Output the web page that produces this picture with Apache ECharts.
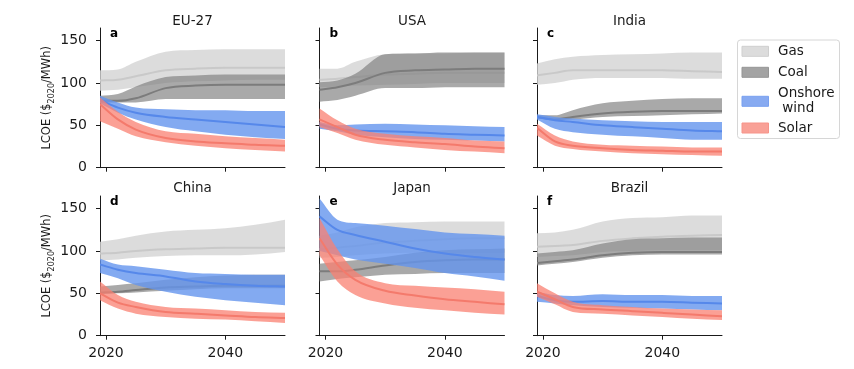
<!DOCTYPE html>
<html>
<head>
<meta charset="utf-8">
<script src="https://cdn.jsdelivr.net/npm/echarts@6/dist/echarts.min.js"></script>
<style>
  html, body { margin: 0; padding: 0; background: #fff; }
  #chart { width: 854px; height: 369px; }
</style>
</head>
<body>
<div id="chart"></div>
<script>
// ---------------- DATA ----------------
const YEARS = [2019, 2022, 2025, 2030, 2035, 2040, 2045, 2050];
const COUNTRIES = ['EU-27', 'USA', 'India', 'China', 'Japan', 'Brazil'];
const LETTERS = ['a', 'b', 'c', 'd', 'e', 'f'];
const TECHS = ['Gas', 'Coal', 'Onshore wind', 'Solar'];
const Y_TICKS = [0, 50, 100, 150];
const X_TICKS = [2020, 2040];

// EU-27
const EU_gas_hi   = [115, 116, 125, 137, 139, 140, 140, 140];
const EU_gas_md   = [103, 104, 108, 115, 117, 118, 118, 118];
const EU_gas_lo   = [91, 92, 95, 100, 102, 103, 104, 104];
const EU_coal_hi  = [85, 87, 96, 107, 109, 110, 110, 110];
const EU_coal_md  = [79, 79, 82, 94, 97, 98, 98, 98];
const EU_coal_lo  = [76, 77, 77, 81, 81, 81, 81, 81];
const EU_wind_hi  = [85, 77, 71, 69, 68, 68, 67, 67];
const EU_wind_md  = [80, 71, 65, 60, 57, 54, 51, 48];
const EU_wind_lo  = [76, 65, 57, 48, 43, 39, 36, 34];
const EU_solar_hi = [83, 66, 54, 43, 40, 37, 35, 33];
const EU_solar_md = [75, 57, 45, 35, 31, 29, 27, 26];
const EU_solar_lo = [55, 46, 37, 30, 26, 23, 21, 19];

// USA
const US_gas_hi   = [117, 117, 125, 134, 135, 135, 136, 136];
const US_gas_md   = [104, 105, 107, 110, 111, 112, 112, 112];
const US_gas_lo   = [95, 96, 97, 98, 99, 100, 100, 100];
const US_coal_hi  = [101, 103, 111, 134, 135, 136, 136, 136];
const US_coal_md  = [92, 95, 100, 112, 115, 116, 117, 117];
const US_coal_lo  = [78, 80, 85, 94, 94, 95, 95, 95];
const US_wind_hi  = [54, 50, 51, 52, 51, 50, 49, 48];
const US_wind_md  = [51, 46, 44, 43, 42, 40, 39, 38];
const US_wind_lo  = [46, 43, 39, 36, 34, 33, 32, 31];
const US_solar_hi = [70, 56, 46, 40, 37, 35, 32, 31];
const US_solar_md = [57, 48, 39, 33, 30, 28, 25, 23];
const US_solar_lo = [48, 41, 33, 27, 24, 21, 19, 17];

// India
const IN_gas_hi   = [123, 128, 131, 133, 134, 135, 136, 136];
const IN_gas_md   = [109, 112, 115, 115, 115, 115, 114, 113];
const IN_gas_lo   = [98, 100, 104, 106, 106, 106, 105, 105];
const IN_coal_hi  = [62, 62, 68, 76, 79, 81, 82, 82];
const IN_coal_md  = [60, 57, 60, 64, 66, 67, 67, 67];
const IN_coal_lo  = [58, 56, 57, 60, 61, 62, 63, 64];
const IN_wind_hi  = [63, 60, 58, 56, 55, 54, 54, 54];
const IN_wind_md  = [60, 56, 54, 50, 48, 46, 44, 43];
const IN_wind_lo  = [57, 46, 42, 39, 37, 35, 33, 33];
const IN_solar_hi = [52, 38, 31, 27, 26, 25, 24, 24];
const IN_solar_md = [47, 31, 26, 23, 21, 20, 19, 19];
const IN_solar_lo = [38, 26, 22, 19, 17, 16, 15, 14];

// China
const CN_gas_hi   = [111, 114, 118, 123, 125, 127, 131, 137];
const CN_gas_md   = [97, 98, 100, 102, 103, 104, 104, 104];
const CN_gas_lo   = [89, 90, 92, 94, 95, 95, 96, 99];
const CN_coal_hi  = [58, 60, 62, 66, 69, 71, 72, 72];
const CN_coal_md  = [51, 52, 54, 57, 58, 59, 59, 59];
const CN_coal_lo  = [49, 50, 51, 53, 55, 56, 56, 56];
const CN_wind_hi  = [91, 84, 82, 78, 74, 73, 72, 72];
const CN_wind_md  = [84, 78, 74, 70, 64, 61, 59, 58];
const CN_wind_lo  = [74, 68, 60, 52, 46, 42, 39, 36];
const CN_solar_hi = [64, 48, 40, 34, 32, 30, 28, 27];
const CN_solar_md = [50, 39, 34, 28, 26, 24, 22, 21];
const CN_solar_lo = [42, 32, 26, 22, 20, 19, 17, 15];

// Japan
const JP_gas_hi   = [118, 122, 128, 133, 134, 135, 135, 135];
const JP_gas_md   = [102, 104, 106, 110, 112, 114, 115, 115];
const JP_gas_lo   = [92, 93, 95, 97, 98, 98, 98, 98];
const JP_coal_hi  = [85, 87, 89, 93, 98, 101, 102, 103];
const JP_coal_md  = [76, 76, 78, 83, 87, 89, 90, 90];
const JP_coal_lo  = [64, 67, 69, 72, 73, 74, 74, 74];
const JP_wind_hi  = [162, 137, 133, 130, 126, 122, 120, 118];
const JP_wind_md  = [141, 125, 119, 111, 103, 97, 93, 90];
const JP_wind_lo  = [100, 95, 90, 85, 80, 74, 70, 65];
const JP_solar_hi = [139, 102, 76, 62, 59, 57, 55, 52];
const JP_solar_md = [115, 84, 66, 53, 47.5, 43, 40, 37];
const JP_solar_lo = [95, 64, 48, 38, 33, 30, 27, 25];

// Brazil
const BR_gas_hi   = [121, 122, 125, 135, 139, 140, 142, 142];
const BR_gas_md   = [105, 106, 107, 112, 115, 117, 118, 119];
const BR_gas_lo   = [93, 94, 95, 99, 100, 101, 101, 101];
const BR_coal_hi  = [97, 99, 101, 109, 114, 115, 116, 116];
const BR_coal_md  = [86, 88, 90, 95, 98, 99, 99, 99];
const BR_coal_lo  = [83, 85, 87, 92, 95, 96, 96, 96];
const BR_wind_hi  = [52, 48, 47, 49, 48, 48, 47, 47];
const BR_wind_md  = [47, 42, 40, 41, 40, 40, 39, 38];
const BR_wind_lo  = [40, 38, 36, 34, 33, 32, 31, 30];
const BR_solar_hi = [62, 50, 40, 36, 34, 32, 31, 30];
const BR_solar_md = [52, 43, 34, 31, 29, 27, 25, 23];
const BR_solar_lo = [46, 37, 28, 26, 24, 22, 20, 18.5];

const PANELS = [
  [[EU_gas_lo, EU_gas_md, EU_gas_hi], [EU_coal_lo, EU_coal_md, EU_coal_hi], [EU_wind_lo, EU_wind_md, EU_wind_hi], [EU_solar_lo, EU_solar_md, EU_solar_hi]],
  [[US_gas_lo, US_gas_md, US_gas_hi], [US_coal_lo, US_coal_md, US_coal_hi], [US_wind_lo, US_wind_md, US_wind_hi], [US_solar_lo, US_solar_md, US_solar_hi]],
  [[IN_gas_lo, IN_gas_md, IN_gas_hi], [IN_coal_lo, IN_coal_md, IN_coal_hi], [IN_wind_lo, IN_wind_md, IN_wind_hi], [IN_solar_lo, IN_solar_md, IN_solar_hi]],
  [[CN_gas_lo, CN_gas_md, CN_gas_hi], [CN_coal_lo, CN_coal_md, CN_coal_hi], [CN_wind_lo, CN_wind_md, CN_wind_hi], [CN_solar_lo, CN_solar_md, CN_solar_hi]],
  [[JP_gas_lo, JP_gas_md, JP_gas_hi], [JP_coal_lo, JP_coal_md, JP_coal_hi], [JP_wind_lo, JP_wind_md, JP_wind_hi], [JP_solar_lo, JP_solar_md, JP_solar_hi]],
  [[BR_gas_lo, BR_gas_md, BR_gas_hi], [BR_coal_lo, BR_coal_md, BR_coal_hi], [BR_wind_lo, BR_wind_md, BR_wind_hi], [BR_solar_lo, BR_solar_md, BR_solar_hi]]
];

// ---------------- STYLE ----------------
const FONT = 'DejaVu Sans';
const BAND = ['rgba(211,211,211,0.8)', 'rgba(128,128,128,0.68)', 'rgba(100,149,237,0.8)', 'rgba(250,128,114,0.75)'];
const LINE = ['#c9c9c9', '#7c7c7c', '#5688ea', '#f47a6c'];
const LEG_FILL = ['#dcdcdc', '#a3a3a3', '#87aaf1', '#f9a197'];
const LEG_EDGE = ['#cfcfcf', '#959595', '#78a0f0', '#f7948a'];
const LEFTS = [100, 319.5, 537];
const TOPS = [28, 196];
const GW = 185, GH = 139.7;

// monotone cubic (Fritsch-Carlson) segments in pixel space
function monoSegments(p) {
  const n = p.length, d = [], m = [];
  for (let k = 0; k < n - 1; k++) d.push((p[k + 1][1] - p[k][1]) / (p[k + 1][0] - p[k][0]));
  m[0] = d[0]; m[n - 1] = d[n - 2];
  for (let k = 1; k < n - 1; k++) m[k] = (d[k - 1] * d[k] <= 0) ? 0 : (d[k - 1] + d[k]) / 2;
  for (let k = 0; k < n - 1; k++) {
    if (d[k] === 0) { m[k] = 0; m[k + 1] = 0; continue; }
    const a = m[k] / d[k], b = m[k + 1] / d[k], s = a * a + b * b;
    if (s > 9) { const t = 3 / Math.sqrt(s); m[k] = t * a * d[k]; m[k + 1] = t * b * d[k]; }
  }
  const segs = [];
  for (let k = 0; k < n - 1; k++) {
    const h = p[k + 1][0] - p[k][0];
    segs.push([p[k], [p[k][0] + h / 3, p[k][1] + m[k] * h / 3], [p[k + 1][0] - h / 3, p[k + 1][1] - m[k + 1] * h / 3], p[k + 1]]);
  }
  return segs;
}
const f = v => v.toFixed(2);
function curvePath(pts, start) {
  const segs = monoSegments(pts);
  let s = start ? 'M' + f(pts[0][0]) + ' ' + f(pts[0][1]) : '';
  segs.forEach(g => { s += 'C' + f(g[1][0]) + ' ' + f(g[1][1]) + ' ' + f(g[2][0]) + ' ' + f(g[2][1]) + ' ' + f(g[3][0]) + ' ' + f(g[3][1]); });
  return s;
}
function reversePath(pts) {
  const segs = monoSegments(pts).reverse();
  let s = 'L' + f(pts[pts.length - 1][0]) + ' ' + f(pts[pts.length - 1][1]);
  segs.forEach(g => { s += 'C' + f(g[2][0]) + ' ' + f(g[2][1]) + ' ' + f(g[1][0]) + ' ' + f(g[1][1]) + ' ' + f(g[0][0]) + ' ' + f(g[0][1]); });
  return s + 'Z';
}

const grids = [], xAxes = [], yAxes = [], series = [], graphics = [];

PANELS.forEach((panel, gi) => {
  const col = gi % 3, row = Math.floor(gi / 3);
  grids.push({ left: LEFTS[col], top: TOPS[row], width: GW, height: GH, containLabel: false });
  xAxes.push({
    type: 'value', gridIndex: gi, min: 2019, max: 2050,
    axisLine: { show: true, onZero: false, lineStyle: { color: '#1a1a1a', width: 1 } },
    axisTick: { show: true, length: 4, customValues: X_TICKS, lineStyle: { color: '#1a1a1a' } },
    axisLabel: { show: row === 1, customValues: X_TICKS, margin: 11, fontSize: 14, color: '#1a1a1a', fontFamily: FONT, formatter: v => String(v) },
    splitLine: { show: false }
  });
  yAxes.push({
    type: 'value', gridIndex: gi, min: 0, max: 165,
    axisLine: { show: true, lineStyle: { color: '#1a1a1a', width: 1 } },
    axisTick: { show: true, length: 4, customValues: Y_TICKS, lineStyle: { color: '#1a1a1a' } },
    axisLabel: { show: col === 0, customValues: Y_TICKS, margin: 13, fontSize: 14, color: '#1a1a1a', fontFamily: FONT, formatter: v => String(v) },
    splitLine: { show: false },
    name: col === 0 ? '{a|LCOE ($}{s|2020}{a|/MWh)}' : '',
    nameLocation: 'middle', nameGap: 47,
    nameTextStyle: {
      color: '#1a1a1a', fontFamily: FONT,
      rich: {
        a: { fontSize: 11.5, fontFamily: FONT, color: '#1a1a1a', lineHeight: 14, verticalAlign: 'bottom' },
        s: { fontSize: 8, fontFamily: FONT, color: '#1a1a1a', lineHeight: 14, verticalAlign: 'bottom', padding: [0, 0, -3, 0] }
      }
    }
  });

  panel.forEach((tech, ti) => {
    const [lo, md, hi] = tech;
    series.push({
      type: 'custom', name: TECHS[ti], xAxisIndex: gi, yAxisIndex: gi, silent: true, clip: true,
      encode: { x: 0, y: [1, 2, 3] },
      data: YEARS.map((y, i) => [y, lo[i], md[i], hi[i]]),
      renderItem: (params, api) => {
        if (params.dataIndex !== 0) return null;
        const top = YEARS.map((y, i) => api.coord([y, hi[i]]));
        const bot = YEARS.map((y, i) => api.coord([y, lo[i]]));
        const mid = YEARS.map((y, i) => api.coord([y, md[i]]));
        return {
          type: 'group',
          children: [
            { type: 'path', shape: { pathData: curvePath(top, true) + reversePath(bot) }, style: { fill: BAND[ti], stroke: null } },
            { type: 'path', shape: { pathData: curvePath(mid, true) }, style: { fill: null, stroke: LINE[ti], lineWidth: 2 } }
          ]
        };
      }
    });
  });

  graphics.push({
    type: 'text', x: LEFTS[col] + GW / 2, y: [21.3, 188.6][row],
    style: { text: COUNTRIES[gi], font: '13.5px "DejaVu Sans"', fill: '#1a1a1a', align: 'center', verticalAlign: 'middle' }
  });
  graphics.push({
    type: 'text', x: LEFTS[col] + 10, y: [33.8, 201.8][row],
    style: { text: LETTERS[gi], font: 'bold 12px "DejaVu Sans"', fill: '#000', align: 'left', verticalAlign: 'middle' }
  });
});

// legend
graphics.push({
  type: 'rect', shape: { x: 737.5, y: 40, width: 102, height: 98.5, r: 3 },
  style: { fill: 'rgba(255,255,255,0.8)', stroke: '#d6d6d6', lineWidth: 1 }
});
const LEG_Y = [51.3, 72.3, 101.3, 128];
const LEG_TEXT = ['Gas', 'Coal', 'Onshore\n wind', 'Solar'];
TECHS.forEach((t, i) => {
  graphics.push({
    type: 'rect', shape: { x: 742, y: LEG_Y[i] - 5, width: 26.5, height: 10 },
    style: { fill: LEG_FILL[i], stroke: LEG_EDGE[i], lineWidth: 1 }
  });
  graphics.push({
    type: 'text', x: 778, y: LEG_Y[i],
    style: { text: LEG_TEXT[i], font: '13.5px "DejaVu Sans"', fill: '#1a1a1a', align: 'left', verticalAlign: 'middle', lineHeight: 15 }
  });
});

const chart = echarts.init(document.getElementById('chart'), null, { renderer: 'canvas' });
chart.setOption({
  animation: false,
  backgroundColor: '#fff',
  textStyle: { fontFamily: FONT },
  grid: grids,
  xAxis: xAxes,
  yAxis: yAxes,
  series: series,
  graphic: graphics
});
</script>
</body>
</html>
